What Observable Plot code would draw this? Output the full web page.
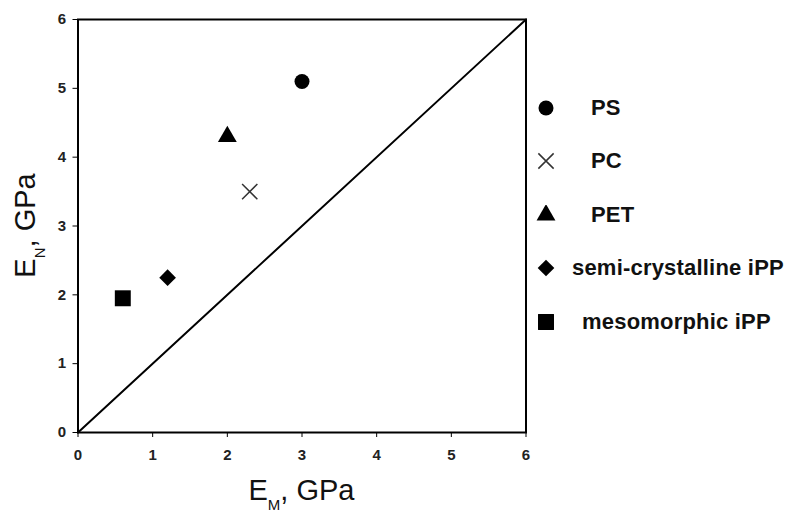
<!DOCTYPE html>
<html>
<head>
<meta charset="utf-8">
<script src="https://cdn.jsdelivr.net/npm/d3@7"></script>
<script src="https://cdn.jsdelivr.net/npm/@observablehq/plot@0.6"></script>
<style>
  html, body { margin: 0; padding: 0; background: #fff; }
  #chart { position: relative; width: 792px; height: 513px; font-family: "Liberation Sans", Arial, sans-serif; }
  #legend { position: absolute; left: 536px; top: 81px; }
  .row { display: flex; align-items: center; height: 53.5px; }
  .row svg { width: 20px; height: 20px; flex: none; }
  .row span { font-size: 22px; letter-spacing: 0.2px; font-weight: bold; color: #111; white-space: nowrap; }
</style>
</head>
<body>
<div id="chart"><div id="legend"></div></div>
<script>
// Young's modulus of each polymer: macro (E_M) vs nano-indentation (E_N), GPa
const polymers = ["PS", "PC", "PET", "semi-crystalline iPP", "mesomorphic iPP"];
const eM = [3.0, 2.3, 2.0, 1.2, 0.6];
const eN = [5.1, 3.5, 4.3, 2.25, 1.95];
const symbols = ["circle", "times", "triangle", "diamond2", "square"];
const ticks = [0, 1, 2, 3, 4, 5, 6];

// marker look per symbol
const markerSize = {circle: 7.5, times: 7, triangle: 7, diamond2: 7.5, square: 9};
const markerFill = s => s === "times" ? "none" : "black";
const markerStroke = s => s === "times" ? "#333" : "none";
// label indent in the legend
const legendIndent = {"PS": 35, "PC": 35, "PET": 35, "semi-crystalline iPP": 16, "mesomorphic iPP": 26};

const table = polymers.map((name, i) => ({name, eM: eM[i], eN: eN[i], symbol: symbols[i]}));
const range = [ticks[0], ticks[ticks.length - 1]];

const plot = Plot.plot({
  width: 792,
  height: 513,
  marginLeft: 77.5,
  marginRight: 266.5,
  marginTop: 19,
  marginBottom: 81,
  style: {background: "white", color: "black", fontFamily: "'Liberation Sans', Arial, sans-serif", fontSize: "15px", fontWeight: "bold"},
  x: {domain: range},
  y: {domain: range},
  r: {type: "identity"},
  color: {type: "identity"},
  symbol: {type: "identity"},
  marks: [
    Plot.axisX({ticks, tickFormat: d3.format("d"), tickSize: 5, tickPadding: 12, fill: "#222", label: null}),
    Plot.axisY({ticks, tickFormat: d3.format("d"), tickSize: 5, tickPadding: 7, fill: "#222", label: null}),
    Plot.line(range, {x: d => d, y: d => d, stroke: "black", strokeWidth: 2}),
    Plot.frame({stroke: "black", strokeWidth: 2}),
    Plot.dot(table, {
      x: "eM", y: "eN",
      symbol: "symbol",
      r: d => markerSize[d.symbol],
      fill: d => markerFill(d.symbol),
      stroke: d => markerStroke(d.symbol),
      strokeWidth: 1.5
    })
  ]
});

const chart = document.getElementById("chart");
chart.prepend(plot);

// axis titles with subscripts
const sx = plot.scale("x"), sy = plot.scale("y");
const svg = d3.select(plot);
const xMid = (sx.apply(range[0]) + sx.apply(range[1])) / 2;
const yMid = (sy.apply(range[0]) + sy.apply(range[1])) / 2;

function axisTitle(g, sub) {
  const t = g.append("text")
    .attr("text-anchor", "middle")
    .attr("font-family", "'Liberation Sans', Arial, sans-serif")
    .attr("font-weight", "normal")
    .attr("font-size", 29)
    .attr("fill", "#111");
  t.append("tspan").text("E");
  t.append("tspan").attr("font-size", 15).attr("dy", 10).text(sub);
  t.append("tspan").attr("dy", -10).text(", GPa");
  return t;
}
axisTitle(svg.append("g").attr("transform", `translate(${xMid},500)`), "M");
axisTitle(svg.append("g").attr("transform", `translate(35,${yMid}) rotate(-90)`), "N");

// legend
const legend = d3.select("#legend");
table.forEach(d => {
  const row = legend.append("div").attr("class", "row");
  const s = row.append("svg").attr("viewBox", "-10 -10 20 20");
  const r = markerSize[d.symbol];
  const sym = {circle: d3.symbolCircle, times: d3.symbolTimes, triangle: d3.symbolTriangle, diamond2: d3.symbolDiamond2, square: d3.symbolSquare}[d.symbol];
  s.append("path")
    .attr("d", d3.symbol(sym, Math.PI * r * r)())
    .attr("fill", markerFill(d.symbol))
    .attr("stroke", markerStroke(d.symbol))
    .attr("stroke-width", 1.5);
  row.append("span").style("margin-left", legendIndent[d.name] + "px").text(d.name);
});
</script>
</body>
</html>
